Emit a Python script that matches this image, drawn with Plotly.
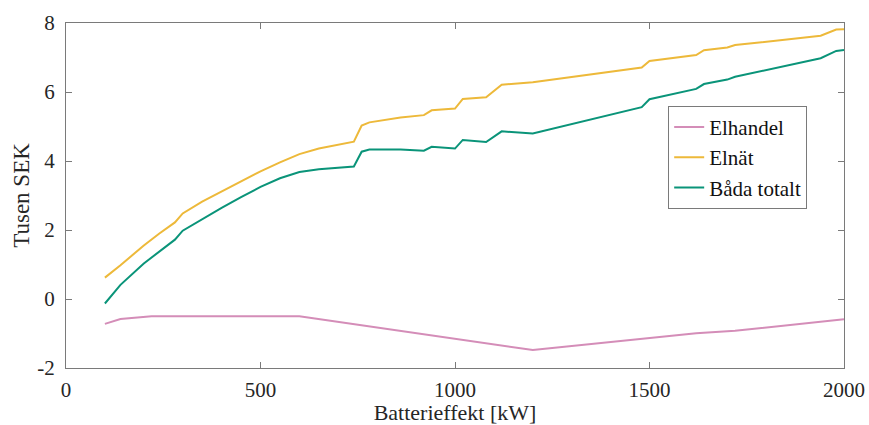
import plotly.graph_objects as go

# Data
x_handel = [100, 140, 220, 600, 1200, 1620, 1720, 2000]
elhandel = [-0.72, -0.58, -0.50, -0.50, -1.48, -0.99, -0.92, -0.59]

x_kw = [100, 140, 200, 240, 280, 300, 350, 400, 450, 500, 550, 600, 650, 700, 740,
        760, 780, 860, 920, 940, 1000, 1020, 1080, 1120, 1160, 1200, 1480, 1500,
        1620, 1640, 1700, 1720, 1940, 1980, 2000]
elnat = [0.62, 0.98, 1.55, 1.90, 2.22, 2.48, 2.82, 3.12, 3.42, 3.70, 3.96, 4.20, 4.36,
         4.47, 4.56, 5.03, 5.12, 5.26, 5.33, 5.47, 5.52, 5.80, 5.85, 6.21, 6.24, 6.28,
         6.71, 6.90, 7.07, 7.21, 7.29, 7.36, 7.63, 7.81, 7.82]
bada = [-0.13, 0.41, 1.03, 1.38, 1.72, 1.98, 2.32, 2.64, 2.95, 3.25, 3.50, 3.68, 3.76,
        3.80, 3.84, 4.27, 4.33, 4.33, 4.30, 4.41, 4.36, 4.61, 4.55, 4.86, 4.83, 4.80,
        5.56, 5.79, 6.09, 6.23, 6.36, 6.44, 6.98, 7.19, 7.22]

x_ticks = [0, 500, 1000, 1500, 2000]
y_ticks = [-2, 0, 2, 4, 6, 8]
y_ticktext = ["-2", "0", "2", "4", "6", "8"]

FONT = "Georgia, 'Liberation Serif', 'DejaVu Serif', serif"
AX = "#7a7a7a"

fig = go.Figure()
fig.add_trace(go.Scatter(x=x_handel, y=elhandel, mode="lines", name="Elhandel",
                         line=dict(color="#D48DB8", width=2)))
fig.add_trace(go.Scatter(x=x_kw, y=elnat, mode="lines", name="Elnät",
                         line=dict(color="#EDB93A", width=2)))
fig.add_trace(go.Scatter(x=x_kw, y=bada, mode="lines", name="Båda totalt",
                         line=dict(color="#0A9479", width=2)))

fig.update_layout(
    width=869, height=425,
    margin=dict(l=66, r=25, t=23, b=57, autoexpand=False),
    paper_bgcolor="white", plot_bgcolor="white",
    font=dict(family=FONT, size=21, color="#262626"),
    showlegend=True,
    legend=dict(x=0.774, y=0.76, xanchor="left", yanchor="top",
                bgcolor="white", bordercolor=AX, borderwidth=1,
                font=dict(family=FONT, size=21, color="#111111"),
                tracegroupgap=0, itemwidth=30),
    xaxis=dict(range=[0, 2000], tickvals=x_ticks, ticks="inside", ticklen=6,
               tickcolor=AX, showline=True, linecolor=AX, linewidth=1, mirror="ticks",
               showgrid=False, zeroline=False, ticklabelstandoff=3, automargin=False,
               tickfont=dict(family=FONT, size=21),
               title=dict(text="Batterieffekt [kW]", standoff=8,
                          font=dict(family=FONT, size=22))),
    yaxis=dict(range=[-2, 8], tickvals=y_ticks, ticktext=y_ticktext,
               ticks="inside", ticklen=6, automargin=False,
               tickcolor=AX, showline=True, linecolor=AX, linewidth=1, mirror="ticks",
               showgrid=False, zeroline=False, ticklabelstandoff=6,
               tickfont=dict(family=FONT, size=21),
               title=dict(text="Tusen SEK", standoff=1,
                          font=dict(family=FONT, size=23))),
)

fig.write_html("out.html")
